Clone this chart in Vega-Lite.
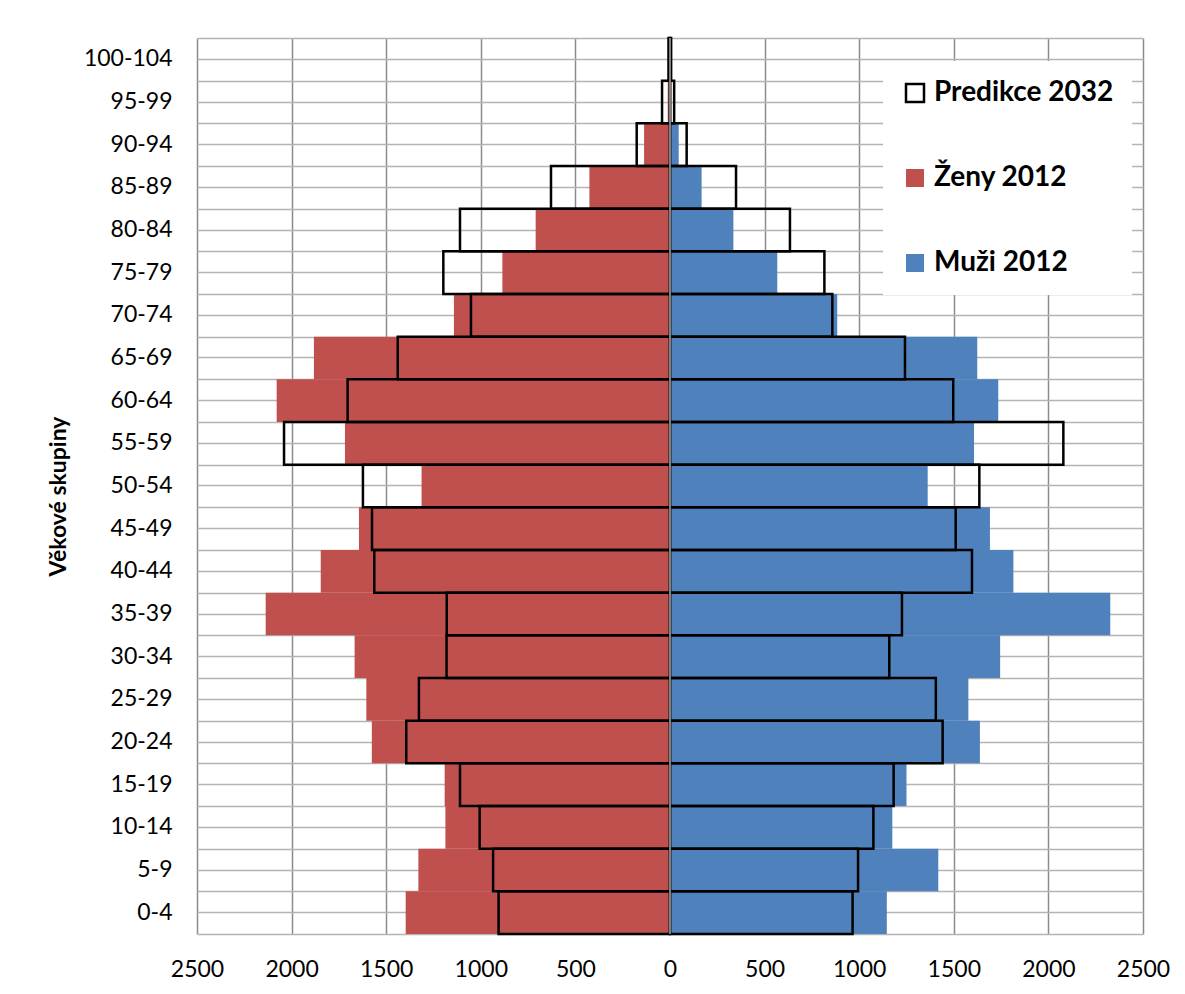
{
  "$schema": "https://vega.github.io/schema/vega-lite/v6.json",
  "autosize": "none",
  "width": 946,
  "height": 896,
  "padding": {"left": 197, "top": 38, "right": 42, "bottom": 60},
  "background": "white",
  "config": {"view": {"stroke": null}},
  "data": {
    "values": [
      {"vek": "100-104", "serie": "Ženy 2012", "h2012": -3, "h2032": -8},
      {"vek": "100-104", "serie": "Muži 2012", "h2012": 2, "h2032": 6},
      {"vek": "95-99", "serie": "Ženy 2012", "h2012": -12, "h2032": -42},
      {"vek": "95-99", "serie": "Muži 2012", "h2012": 5, "h2032": 22},
      {"vek": "90-94", "serie": "Ženy 2012", "h2012": -137, "h2032": -176},
      {"vek": "90-94", "serie": "Muži 2012", "h2012": 46, "h2032": 88},
      {"vek": "85-89", "serie": "Ženy 2012", "h2012": -426, "h2032": -629},
      {"vek": "85-89", "serie": "Muži 2012", "h2012": 167, "h2032": 349},
      {"vek": "80-84", "serie": "Ženy 2012", "h2012": -710, "h2032": -1110},
      {"vek": "80-84", "serie": "Muži 2012", "h2012": 335, "h2032": 634},
      {"vek": "75-79", "serie": "Ženy 2012", "h2012": -886, "h2032": -1198},
      {"vek": "75-79", "serie": "Muži 2012", "h2012": 567, "h2032": 816},
      {"vek": "70-74", "serie": "Ženy 2012", "h2012": -1142, "h2032": -1052},
      {"vek": "70-74", "serie": "Muži 2012", "h2012": 884, "h2032": 858},
      {"vek": "65-69", "serie": "Ženy 2012", "h2012": -1882, "h2032": -1439},
      {"vek": "65-69", "serie": "Muži 2012", "h2012": 1624, "h2032": 1242},
      {"vek": "60-64", "serie": "Ženy 2012", "h2012": -2079, "h2032": -1704},
      {"vek": "60-64", "serie": "Muži 2012", "h2012": 1735, "h2032": 1497},
      {"vek": "55-59", "serie": "Ženy 2012", "h2012": -1718, "h2032": -2040},
      {"vek": "55-59", "serie": "Muži 2012", "h2012": 1607, "h2032": 2079},
      {"vek": "50-54", "serie": "Ženy 2012", "h2012": -1313, "h2032": -1623},
      {"vek": "50-54", "serie": "Muži 2012", "h2012": 1362, "h2032": 1635},
      {"vek": "45-49", "serie": "Ženy 2012", "h2012": -1644, "h2032": -1575},
      {"vek": "45-49", "serie": "Muži 2012", "h2012": 1691, "h2032": 1510},
      {"vek": "40-44", "serie": "Ženy 2012", "h2012": -1846, "h2032": -1563},
      {"vek": "40-44", "serie": "Muži 2012", "h2012": 1815, "h2032": 1596},
      {"vek": "35-39", "serie": "Ženy 2012", "h2012": -2137, "h2032": -1180},
      {"vek": "35-39", "serie": "Muži 2012", "h2012": 2327, "h2032": 1226},
      {"vek": "30-34", "serie": "Ženy 2012", "h2012": -1667, "h2032": -1181},
      {"vek": "30-34", "serie": "Muži 2012", "h2012": 1745, "h2032": 1159},
      {"vek": "25-29", "serie": "Ženy 2012", "h2012": -1605, "h2032": -1327},
      {"vek": "25-29", "serie": "Muži 2012", "h2012": 1577, "h2032": 1405},
      {"vek": "20-24", "serie": "Ženy 2012", "h2012": -1576, "h2032": -1394},
      {"vek": "20-24", "serie": "Muži 2012", "h2012": 1638, "h2032": 1441},
      {"vek": "15-19", "serie": "Ženy 2012", "h2012": -1191, "h2032": -1110},
      {"vek": "15-19", "serie": "Muži 2012", "h2012": 1250, "h2032": 1182},
      {"vek": "10-14", "serie": "Ženy 2012", "h2012": -1187, "h2032": -1006},
      {"vek": "10-14", "serie": "Muži 2012", "h2012": 1175, "h2032": 1075},
      {"vek": "5-9", "serie": "Ženy 2012", "h2012": -1330, "h2032": -935},
      {"vek": "5-9", "serie": "Muži 2012", "h2012": 1418, "h2032": 994},
      {"vek": "0-4", "serie": "Ženy 2012", "h2012": -1397, "h2032": -906},
      {"vek": "0-4", "serie": "Muži 2012", "h2012": 1146, "h2032": 965}
    ]
  },
  "layer": [
    {
      "mark": {"type": "bar"},
      "encoding": {
        "y": {
          "field": "vek", "type": "ordinal",
          "sort": ["100-104","95-99","90-94","85-89","80-84","75-79","70-74","65-69","60-64","55-59","50-54","45-49","40-44","35-39","30-34","25-29","20-24","15-19","10-14","5-9","0-4"],
          "scale": {"paddingInner": 0, "paddingOuter": 0},
          "title": "Věkové skupiny",
          "axis": {
            "orient": "left", "grid": true, "gridColor": "#b4b4b4", "gridWidth": 1.5,
            "domain": false, "ticks": false,
            "labelFont": "Lato", "labelFontSize": 23, "labelColor": "black", "labelPadding": 25,
            "titleFont": "Lato", "titleFontSize": 23, "titleFontWeight": "bold", "titleColor": "black", "titlePadding": 13,
            "titleY": 458
          }
        },
        "x": {
          "field": "h2012", "type": "quantitative",
          "scale": {"domain": [-2500, 2500], "nice": false},
          "title": null,
          "axis": {
            "values": [-2500,-2000,-1500,-1000,-500,0,500,1000,1500,2000,2500],
            "labelExpr": "abs(datum.value)",
            "labelFlush": false,
            "grid": true, "gridColor": "#8c8c8c", "gridWidth": 1.5,
            "domain": false, "ticks": false,
            "labelFont": "Lato", "labelFontSize": 23, "labelColor": "black", "labelPadding": 24,
            "title": null
          }
        },
        "fill": {
          "field": "serie", "type": "nominal",
          "scale": {"domain": ["Predikce 2032", "Ženy 2012", "Muži 2012"], "range": ["white", "#C0504D", "#4F81BD"]},
          "legend": {
            "orient": "none", "legendX": 686, "legendY": 23,
            "title": null, "fillColor": "white", "padding": 18,
            "symbolType": "square", "symbolSize": 324, "symbolStrokeWidth": 0,
            "labelFont": "Lato", "labelFontSize": 28, "labelFontWeight": "bold", "labelColor": "black",
            "labelOffset": 5, "rowPadding": 57, "labelLimit": 400,
            "encoding": {
              "symbols": {
                "stroke": {"value": {"expr": "datum.value === 'Predikce 2032' ? 'black' : 'transparent'"}},
                "strokeWidth": {"value": 2.5}
              }
            }
          }
        }
      }
    },
    {
      "mark": {"type": "bar", "fill": "transparent", "stroke": "black", "strokeWidth": 2.5},
      "encoding": {
        "y": {
          "field": "vek", "type": "ordinal",
          "sort": ["100-104","95-99","90-94","85-89","80-84","75-79","70-74","65-69","60-64","55-59","50-54","45-49","40-44","35-39","30-34","25-29","20-24","15-19","10-14","5-9","0-4"],
          "axis": {
            "orient": "right", "grid": true, "tickBand": "extent", "gridColor": "#b4b4b4", "gridWidth": 1.5,
            "labels": false, "ticks": false, "domain": false, "title": null
          }
        },
        "x": {"field": "h2032", "type": "quantitative", "title": null}
      }
    },
    {
      "mark": {"type": "rule", "color": "#7f7f7f", "strokeWidth": 2},
      "encoding": {"x": {"datum": 0, "title": null}}
    }
  ]
}
